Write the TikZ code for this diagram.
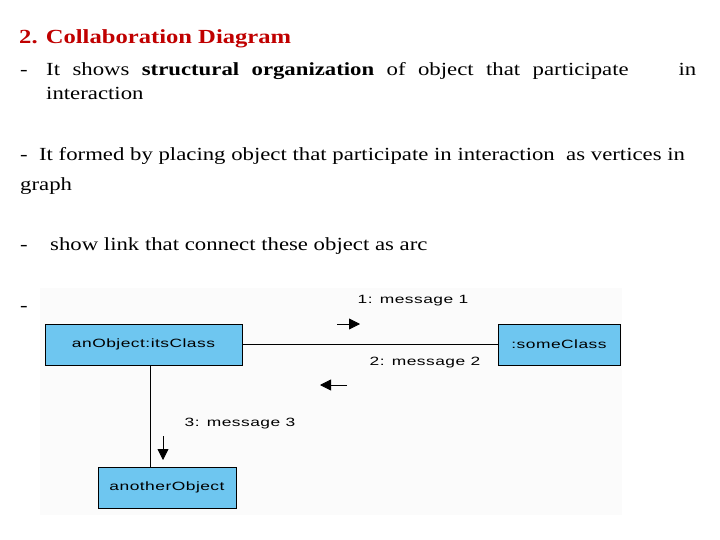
\documentclass[tikz,border=0pt]{standalone}
\usepackage{fontspec}
\usetikzlibrary{arrows.meta}
\setmainfont{Liberation Serif}[FakeStretch=1.23]
\newfontfamily\diag{Liberation Sans}[FakeStretch=1.45,LetterSpace=4]
\definecolor{titlered}{RGB}{192,0,0}
\definecolor{boxblue}{RGB}{110,198,240}
\begin{document}
\begin{tikzpicture}[x=1pt,y=-1pt,
  obj/.style={draw=black,fill=boxblue,minimum height=41pt,inner sep=0pt,font=\diag\fontsize{12}{14}\selectfont},
  lbl/.style={font=\diag\fontsize{12}{14}\selectfont,inner sep=0pt},
  txt/.style={anchor=base west,inner sep=0pt,font=\fontsize{18.5}{22}\selectfont},
  msg/.style={-{Triangle[length=11pt,width=11pt]},line width=0.8pt}]
\useasboundingbox[fill=white] (0,0) rectangle (720,540);
\node[txt,font=\bfseries\fontsize{20}{24}\selectfont,text=titlered] (t) at (19,44) {2. Collaboration Diagram};
\node[txt] (d1) at (20,76) {-};
\node[txt] (l1) at (46,76) {\makebox[650pt][s]{It shows \textbf{structural organization} of object that participate \ \ \ in}};
\node[txt] (l1b) at (46,100) {interaction};
\node[txt] (l2) at (20,161) {- \ It formed by placing object that participate in interaction \ as vertices in};
\node[txt] (l2b) at (20,191) {graph};
\node[txt] (d3) at (20,251) {-};
\node[txt] (l3) at (50,251) {show link that connect these object as arc};
\node[txt] (d4) at (20,311) {-};
\fill[gray!3] (40,288) rectangle (622,515);
\node[obj,minimum width=197pt] (a) at (143.5,344.5) {anObject:itsClass};
\node[obj,minimum width=122pt] (s) at (559,344.5) {:someClass};
\node[obj,minimum width=138pt] (o) at (167,487.5) {anotherObject};
\draw[line width=0.7pt] (a) -- (s);
\draw[line width=0.7pt] (a.south -| 150,0) -- (o.north -| 150,0);
\coordinate (m1s) at (337,324); \coordinate (m1e) at (360,324);
\coordinate (m2s) at (347,385); \coordinate (m2e) at (320,385);
\coordinate (m3s) at (163,436); \coordinate (m3e) at (163,460);
\draw[msg] (m1s) -- (m1e);
\draw[msg] (m2s) -- (m2e);
\draw[msg] (m3s) -- (m3e);
\node[lbl] (t1) at (413,301) {1: message 1};
\node[lbl] (t2) at (425,363) {2: message 2};
\node[lbl] (t3) at (240,424) {3: message 3};
\end{tikzpicture}
\end{document}
